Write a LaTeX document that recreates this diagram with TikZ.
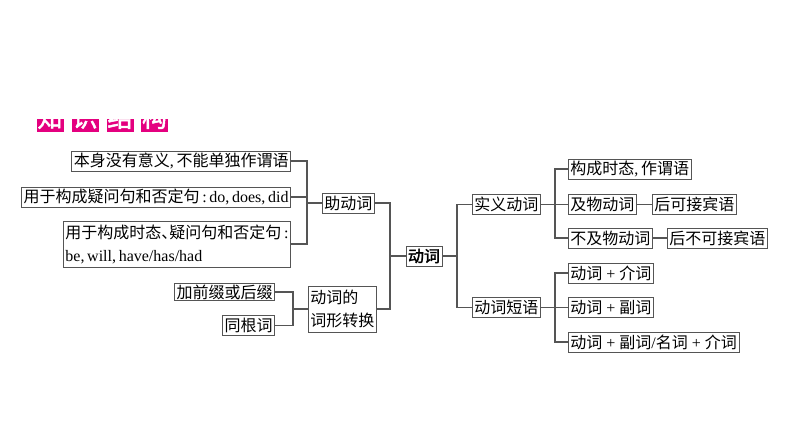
\documentclass[tikz,border=0pt]{standalone}
\usepackage{fontspec}
\setmainfont{Liberation Serif}
\newfontfamily\cjk{Noto Sans CJK SC}
\newfontfamily\cjkbold[FakeBold=2]{Noto Sans CJK SC}
\newcommand\lat[1]{{\rmfamily #1}}
\newcommand\dun{\hbox to 0.5em{、\hss}}
\definecolor{headmag}{HTML}{E4007F}
\definecolor{linegray}{HTML}{555555}
\tikzstyle{every node}=[draw=linegray, text=black, line width=0.9pt, inner xsep=2pt, inner ysep=0pt, minimum height=20pt, font=\cjk\fontsize{16}{20}\selectfont]
\tikzset{twoline/.style={align=left, minimum height=46pt, font=\cjk\fontsize{16}{23}\selectfont}}
\tikzset{head/.style={draw=none, fill=headmag, text=white, minimum width=27pt, minimum height=29pt, inner sep=0pt, font=\cjkbold\fontsize{25}{25}\selectfont}}

\begin{document}
\begin{tikzpicture}[x=1pt,y=-1pt,line width=1.1pt,color=linegray]
    \useasboundingbox (0,0) rectangle (794,447);
    % header
    \begin{scope}
      \clip (30,119) rectangle (180,140);
      \node[head] (h1) at (50,117.5) {知};
      \node[head] (h2) at (85,117.5) {识};
      \node[head] (h3) at (120,117.5) {结};
      \node[head] (h4) at (154.5,117.5) {构};
    \end{scope}

    \node[anchor=east] (aux1) at (291,161) {本身没有意义\lat{,\,}不能单独作谓语};
    \node[anchor=east] (aux2) at (291,197) {用于构成疑问句和否定句\lat{\,:\,do,\,does,\,did}};
    \node[anchor=east,twoline] (aux3) at (291,244) {用于构成时态\dun 疑问句和否定句\lat{\,:}\\\lat{be,\,will,\,have/has/had}};
    \node[anchor=west] (zhu) at (322,203) {助动词};
    \node[anchor=east,minimum height=17pt] (form1) at (275,292) {加前缀或后缀};
    \node[anchor=east] (form2) at (275,325.5) {同根词};
    \node[anchor=west,twoline] (zhuan) at (308,309) {动词的\\词形转换};
    \node[font=\cjkbold\fontsize{16}{20}\selectfont] (verb) at (424,256) {动词};

    \node[anchor=west] (shi) at (472,204.5) {实义动词};
    \node[anchor=west] (duan) at (472,307.5) {动词短语};
    \node[anchor=west] (r1) at (568,169) {构成时态\lat{,\,}作谓语};
    \node[anchor=west] (r2) at (568,204.5) {及物动词};
    \node[anchor=west] (r2b) at (652,204.5) {后可接宾语};
    \node[anchor=west] (r3) at (568,238) {不及物动词};
    \node[anchor=west] (r3b) at (667,238) {后不可接宾语};
    \node[anchor=west] (p1) at (568,273) {动词\lat{ + }介词};
    \node[anchor=west] (p2) at (568,307.5) {动词\lat{ + }副词};
    \node[anchor=west] (p3) at (568,342) {动词\lat{ + }副词\lat{/}名词\lat{ + }介词};

    \coordinate (jA) at (307,0);
    \coordinate (jB) at (390,0);
    \coordinate (jC) at (293,0);
    \coordinate (jD) at (457,0);
    \coordinate (jE) at (555,0);

    \draw (aux1.east) -- (aux1.east -| jA) -- (aux3.east -| jA) -- (aux3.east);
    \draw (aux2.east) -- (aux2.east -| jA);
    \draw (zhu.west -| jA) -- (zhu.west);
    \draw (form1.east) -- (form1.east -| jC) -- (form2.east -| jC) -- (form2.east);
    \draw (zhuan.west -| jC) -- (zhuan.west);
    \draw (zhu.east) -- (zhu.east -| jB) -- (zhuan.east -| jB) -- (zhuan.east);
    \draw (verb.west -| jB) -- (verb.west);

    \draw (shi.west) -- (shi.west -| jD) -- (duan.west -| jD) -- (duan.west);
    \draw (verb.east) -- (verb.east -| jD);
    \draw (r1.west) -- (r1.west -| jE) -- (r3.west -| jE) -- (r3.west);
    \draw (shi.east) -- (r2.west);
    \draw (r2.east) -- (r2b.west);
    \draw (r3.east) -- (r3b.west);
    \draw (p1.west) -- (p1.west -| jE) -- (p3.west -| jE) -- (p3.west);
    \draw (duan.east) -- (p2.west);
  \end{tikzpicture}
\end{document}
